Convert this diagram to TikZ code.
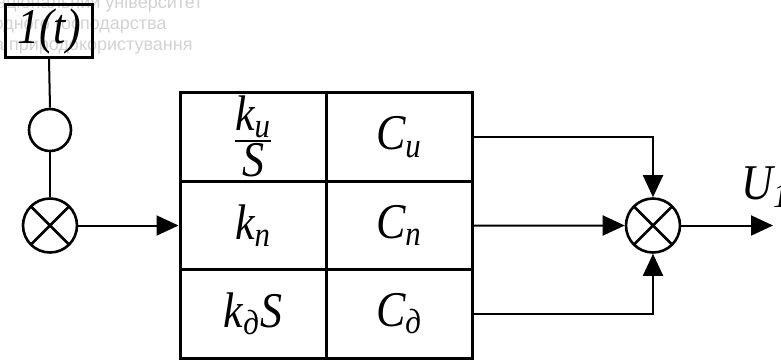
\documentclass[tikz,border=0pt]{standalone}
\usepackage{amsmath}
\usepackage{fontspec}
\setmainfont[FakeStretch=0.88]{Liberation Serif}
\newfontfamily\wmfont{Liberation Sans}
\usetikzlibrary{arrows.meta}
\colorlet{colwm}{gray!35}
\tikzset{
  >={Triangle[length=11pt, width=10pt]},
  txt/.style={font=\fontsize{25}{29}\selectfont\itshape},
  wire/.style={line width=1pt},
  cell/.style={draw, line width=1.5pt, minimum width=73pt, minimum height=44.2pt, inner sep=0, txt},
  ring/.style={circle, draw, line width=1.3pt, minimum size=21pt, inner sep=0},
  mult/.style={ring, minimum size=27pt,
    path picture={\draw[line width=1.3pt]
      (path picture bounding box.north west) -- (path picture bounding box.south east)
      (path picture bounding box.north east) -- (path picture bounding box.south west);}},
  wm/.style={colwm, font=\wmfont\fontsize{9}{10}\selectfont, anchor=east, inner sep=0},
}
\newcommand{\kufrac}{\smash{\raisebox{-8pt}{$\frac{\displaystyle\textit{k}_{\smash{\textit{и}}}}{\displaystyle\textit{S}}$}}}
\begin{document}
\begin{tikzpicture}[x=0.5pt, y=-0.5pt]
  \useasboundingbox (0,0) rectangle (781,361);

  % ---- watermark, under the drawing
  \node[wm] (wm1) at (203,4)  {Національний університет};
  \node[wm] (wm2) at (167,27) {водного господарства};
  \node[wm] (wm3) at (193,48) {та природокористування};

  % ---- source and left chain
  \node[draw, line width=1.5pt, minimum width=43.5pt, minimum height=26.5pt, inner sep=0, txt] (src) at (49,31) {1(t)};
  \node[ring]  (ring)  at (50,130) {};
  \node[mult]  (mulin) at (50,225.5) {};

  % ---- block of coefficients: one \foreach per column
  \foreach \r/\t in {1/{\kufrac}, 2/{$\textit{k}_{\textit{п}}$}, 3/{$\textit{k}_{\textit{д}}\textit{S}$}}
    \node[cell] (c\r1) at (253, {93 + 88.33*(\r - 0.5)}) {\t};
  \foreach \r/\t in {1/и, 2/п, 3/д}
    \node[cell] (c\r2) at (399, {93 + 88.33*(\r - 0.5)}) {$\textit{C}_{\textit{\t}}$};

  % ---- summing junction and output
  \node[mult] (sum) at (653,225.5) {};
  \coordinate (out) at (773,225.5);
  \node[txt, anchor=west, inner sep=0] (ulab) at (741,187) {$\textit{U}_{\textit{1}}$};

  % ---- connectors
  \draw[wire] (src.south) -- (ring.north);
  \draw[wire] (ring.south) -- (mulin.north);
  \draw[wire, ->] (mulin.east) -- (mulin.east -| c21.west);
  \draw[wire, ->] (c12.east) -| (sum.north);
  \draw[wire, ->] (c22.east) -- (sum.west);
  \draw[wire, ->] (c32.east) -| (sum.south);
  \draw[wire, ->] (sum.east) -- (out);

\end{tikzpicture}
\end{document}
